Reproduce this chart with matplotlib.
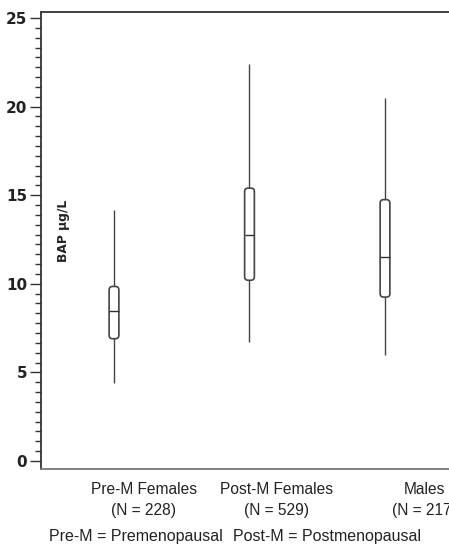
import matplotlib
matplotlib.use("Agg")
import matplotlib.pyplot as plt
from matplotlib.patches import FancyBboxPatch
from matplotlib.ticker import FixedLocator
import numpy as np

# ---- data ----
groups = ["Pre-M Females", "Post-M Females", "Males"]
ns = [228, 529, 217]
whislo = [4.4, 6.7, 6.0]
q1 = [6.9, 10.2, 9.25]
med = [8.45, 12.75, 11.5]
q3 = [9.85, 15.4, 14.75]
whishi = [14.15, 22.4, 20.5]
yticks = [0, 5, 10, 15, 20, 25]
ylabel = "BAP µg/L"
footer_left = "Pre-M = Premenopausal"
footer_right = "Post-M = Postmenopausal"

W, H = 449, 544
fig = plt.figure(figsize=(W / 100, H / 100), dpi=100)
ax_left, ax_right, ax_top, ax_bot = 41, 470, 12, 469
ax = fig.add_axes([ax_left / W, 1 - ax_bot / H, (ax_right - ax_left) / W, (ax_bot - ax_top) / H])

pos = np.arange(len(groups))
px_per_x = 135.5
px_per_y = 17.72
ax.set_xlim((ax_left - 114) / px_per_x, (ax_right - 114) / px_per_x)
ax.set_ylim(-8 / px_per_y, (461 - ax_top) / px_per_y)

line_col = "#444444"
# whiskers
ax.vlines(pos, whislo, whishi, color=line_col, lw=1.0, zorder=2)
# boxes
bw = 0.072
rs = 0.026
aspect = px_per_x / px_per_y
for p, lo, hi in zip(pos, q1, q3):
    box = FancyBboxPatch((p - bw / 2, lo), bw, hi - lo,
                         boxstyle=f"round,pad=0,rounding_size={rs}",
                         mutation_aspect=aspect, facecolor="white",
                         edgecolor=line_col, lw=1.2, zorder=3)
    ax.add_patch(box)
ax.hlines(med, pos - bw / 2, pos + bw / 2, color="#333333", lw=1.0, zorder=4)

# spines
for s in ["left", "top", "bottom"]:
    ax.spines[s].set_color("#333333")
    ax.spines[s].set_linewidth(1.3)
ax.spines["bottom"].set_color("#777777")
ax.spines["right"].set_visible(False)

# y ticks
ax.set_yticks(yticks)
ax.set_yticklabels([str(t) for t in yticks], fontsize=11, fontweight="bold",
                   color="#222222", family="DejaVu Sans")
minor = []
for a in yticks[:-1]:
    minor += list(a + np.arange(1, 9) * 5 / 9)
ax.yaxis.set_minor_locator(FixedLocator(minor))
ax.tick_params(axis="y", which="major", length=8, width=1.0, color="#333333", pad=2)
ax.tick_params(axis="y", which="minor", length=4, width=1.0, color="#333333")

# x labels
label_offsets = [0.22, 0.2, 0.29]
ax.set_xticks(pos + np.array(label_offsets))
ax.set_xticklabels([f"{g}\n(N = {n})" for g, n in zip(groups, ns)],
                   fontsize=11.2, family="Liberation Sans", color="#222222",
                   linespacing=1.5)
ax.tick_params(axis="x", length=0, pad=9)

ax.text(0.053, 0.52, ylabel, transform=ax.transAxes, rotation=90,
        fontsize=8.8, fontweight="bold", ha="center", va="center", color="#222222")

fig.text(49 / W, 1 - 541 / H, footer_left, fontsize=11.5, family="Liberation Sans",
         color="#222222", va="baseline", ha="left")
fig.text(233 / W, 1 - 541 / H, footer_right, fontsize=11.5, family="Liberation Sans",
         color="#222222", va="baseline", ha="left")

fig.savefig("out.png", dpi=100)
